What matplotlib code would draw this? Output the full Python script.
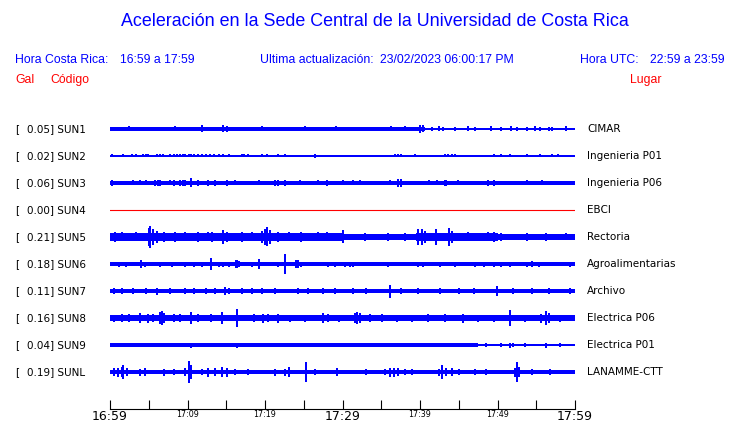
import matplotlib
matplotlib.use("Agg")
import matplotlib.pyplot as plt
from matplotlib.transforms import blended_transform_factory

# station codes, peak acceleration (Gal) and place names
codes = ["SUN1", "SUN2", "SUN3", "SUN4", "SUN5", "SUN6", "SUN7", "SUN8", "SUN9", "SUNL"]
gal = [0.05, 0.02, 0.06, 0.00, 0.21, 0.18, 0.11, 0.16, 0.04, 0.19]
places = ["CIMAR", "Ingenieria P01", "Ingenieria P06", "EBCI", "Rectoria",
          "Agroalimentarias", "Archivo", "Electrica P06", "Electrica P01", "LANAMME-CTT"]

# time axis: minutes after 16:59
tick_minutes = [0, 10, 20, 30, 40, 50, 60]
tick_labels = ["16:59", "17:09", "17:19", "17:29", "17:39", "17:49", "17:59"]

# trace envelopes: (start min, end min, half height px)
sun1_base = [(0, 40.6, 1.8), (40.6, 60, 0.8)]
sun2_base = [(0, 60, 0.6)]
sun3_base = [(0, 55.5, 2.0), (55.5, 60, 2.3)]
sun4_base = [(0, 60, 0.5)]
sun5_base = [(0, 30, 4.4), (30, 39.5, 3.0), (39.5, 50, 4.0), (50, 60, 3.2)]
sun6_base = [(0, 60, 2.0)]
sun7_base = [(0, 60, 2.3)]
sun8_base = [(0, 60, 2.8)]
sun9_base = [(0, 47.5, 1.8), (47.5, 60, 1.1)]
sunl_base = [(0, 60, 2.1)]

# bursts / spikes: (minute, half height px)
sun1_peaks = [(2.5, 2.5), (8.4, 2.5), (11.9, 3.5), (14.6, 3.5), (15.1, 3), (19.6, 2.5),
              (25.2, 2.5), (29.2, 2.5), (36.3, 2.5), (38.1, 2.5), (40.0, 4), (40.4, 3.5),
              (41.5, 1.6), (42.4, 2.5), (43.0, 1.6), (44.5, 2), (46.2, 2.5), (47.1, 1.6),
              (49.2, 2.5), (50.5, 1.6), (51.8, 2.5), (52.5, 1.6), (53.8, 2), (54.8, 2.5),
              (55.5, 1.6), (56.6, 1.6), (57.0, 2), (58.9, 2.5)]
sun2_peaks = [(0.2, 1.5), (1.7, 1.5), (2.8, 1.5), (3.4, 1.5), (4.3, 1.5), (4.6, 1.5),
              (4.9, 1.5), (6.0, 1.5), (6.4, 1.5), (6.9, 1.5), (7.7, 1.5), (8.2, 1.5),
              (8.6, 1.5), (9.0, 1.5), (9.4, 1.5), (9.7, 1.5), (10.2, 1.5), (10.5, 1.5),
              (10.8, 1.5), (11.4, 1.5), (11.9, 1.5), (12.4, 1.5), (12.9, 1.5), (13.4, 1.5),
              (14.0, 1.5), (14.6, 1.5), (15.3, 1.5), (17.0, 1.5), (17.3, 1.5), (17.8, 1.5),
              (19.6, 1.5), (20.2, 1.5), (21.7, 1.5), (22.6, 1.5), (26.5, 2), (36.8, 1.5),
              (37.2, 1.5), (37.6, 1.5), (39.4, 1.5), (43.2, 1.5), (43.6, 1.5), (44.1, 1.5),
              (44.5, 1.5), (49.5, 1.5), (50.5, 1.5), (51.6, 1.5), (53.8, 1.5), (55.5, 1.5),
              (57.0, 1.5), (57.8, 1.5)]
sun3_peaks = [(0.3, 3), (3.0, 2.5), (3.9, 2.5), (4.7, 2.5), (5.8, 3), (6.2, 3), (6.5, 3),
              (7.7, 2.5), (8.2, 3), (9.0, 3), (9.4, 3), (9.7, 3), (10.4, 4.5), (11.4, 3),
              (12.7, 3), (13.5, 3), (15.1, 3), (16.1, 2.5), (19.2, 2.5), (21.3, 3),
              (21.7, 3), (22.6, 3), (24.5, 2.5), (26.9, 2.5), (28.0, 3), (30.1, 2.5),
              (31.4, 2.5), (32.3, 2.5), (36.1, 2.5), (37.2, 4), (37.6, 4), (41.1, 2.5),
              (42.2, 2.5), (43.2, 3), (43.4, 3), (44.9, 2.5), (48.8, 3), (49.5, 3),
              (53.8, 2.5), (55.7, 2.5)]
sun4_peaks = []
sun5_peaks = [(0.7, 5), (1.5, 4.5), (3.4, 4.5), (5.0, 9), (5.2, 11), (5.5, 8), (6.0, 6),
              (7.0, 5), (8.4, 5), (9.7, 4.5), (11.4, 5), (12.7, 4.5), (13.1, 5), (14.6, 7),
              (15.1, 5), (17.0, 5), (18.3, 4.5), (19.6, 6), (20.0, 8), (20.2, 9.5),
              (20.6, 7), (21.7, 5), (23.1, 4.5), (24.7, 5), (26.9, 4.5), (28.0, 4.5),
              (30.1, 6.5), (32.9, 4), (35.9, 4), (38.1, 4), (39.8, 8), (40.2, 8), (40.6, 6),
              (42.0, 8), (43.7, 9), (44.1, 6), (46.2, 4.5), (48.8, 4.5), (49.5, 5),
              (50.5, 4), (53.8, 4), (56.3, 4), (58.9, 3.5)]
sun6_peaks = [(1.1, 2.5), (2.0, 2.5), (4.0, 3.5), (4.5, 2.5), (6.4, 2.5), (8.0, 2.5),
              (9.7, 2.5), (10.8, 2.5), (11.9, 2.5), (13.0, 6.5), (14.0, 2.5), (14.6, 2.5),
              (15.3, 2.5), (16.2, 3.5), (16.4, 3.5), (16.6, 3), (18.3, 2.5), (19.2, 5),
              (21.7, 2.5), (22.6, 10), (24.0, 3.5), (24.3, 3.5), (24.7, 2.5), (28.1, 2.5),
              (29.0, 2.5), (30.3, 2.5), (31.0, 2.5), (31.4, 2.5), (35.9, 2.5), (39.8, 2.5),
              (40.4, 2.5), (42.6, 2.5), (44.5, 2.5), (47.1, 2.5), (48.2, 2.5), (49.5, 2.5),
              (50.5, 2.5), (51.6, 2.5), (53.8, 2.5), (54.5, 3), (55.3, 2.5), (59.4, 2.5)]
sun7_peaks = [(0.5, 3), (1.5, 3), (3.0, 3), (4.7, 3), (6.0, 3.5), (7.7, 3), (9.7, 3),
              (10.8, 3), (12.4, 3), (13.5, 3), (14.8, 4), (15.3, 3), (17.0, 3), (18.3, 3),
              (19.6, 3), (21.3, 3), (24.3, 3), (25.6, 3), (27.5, 3), (29.0, 3), (31.4, 3),
              (33.0, 3), (36.1, 6.5), (37.6, 3), (39.8, 3), (42.6, 3), (45.0, 3), (47.0, 3),
              (49.9, 4.5), (52.0, 3), (54.5, 3), (56.6, 3), (59.4, 3)]
sun8_peaks = [(0.5, 3.5), (1.5, 4), (2.5, 4), (3.9, 5), (4.9, 4.5), (5.5, 4), (6.5, 6),
              (6.7, 7), (7.0, 5.5), (8.2, 4), (9.0, 4), (10.5, 6), (11.4, 4), (13.0, 4),
              (14.4, 6), (16.4, 9), (18.6, 4), (19.8, 4.5), (20.4, 4), (21.7, 4.5),
              (23.2, 3.5), (25.2, 3.5), (27.5, 5), (28.1, 4), (29.5, 3.5), (31.6, 5),
              (31.9, 6), (32.2, 5), (33.5, 4), (35.1, 4), (37.0, 3.5), (39.0, 3.5), (41.0, 4),
              (43.2, 4), (45.6, 4.5), (47.5, 3.5), (49.5, 3.5), (51.6, 8), (53.5, 3.5),
              (55.6, 4.5), (56.2, 7), (56.6, 5), (58.0, 3.5)]
sun9_peaks = [(10.5, 2.5), (16.4, 2.5), (17.3, 2), (22.6, 1.8), (25.5, 1.8), (29.0, 1.8),
              (31.5, 1.8), (34.0, 2), (36.8, 2.3), (38.5, 1.8), (40.5, 1.8), (43.0, 1.8),
              (46.0, 1.8), (48.5, 1.8), (50.5, 1.8), (51.6, 2.5), (52.0, 2), (53.5, 1.8),
              (56.3, 2.5), (58.0, 1.8)]
sunl_peaks = [(0.5, 4), (1.0, 4.5), (1.5, 5), (1.7, 7), (2.2, 4), (3.9, 3.5), (4.5, 4),
              (7.0, 3.5), (8.2, 3), (9.7, 4), (10.2, 11), (10.5, 7), (11.9, 3), (12.7, 4.5),
              (13.5, 4), (14.4, 5), (15.1, 4.5), (16.1, 3), (17.8, 3), (21.3, 3.5),
              (22.6, 3.5), (23.1, 5), (25.3, 10), (26.5, 3), (29.3, 4), (33.0, 3), (35.5, 3),
              (36.1, 4.5), (36.6, 4.5), (37.2, 4), (38.1, 3), (39.0, 3), (42.4, 3.5),
              (42.9, 7), (43.4, 4), (44.1, 4), (45.0, 3), (47.1, 3), (48.5, 3), (52.3, 4.5),
              (52.5, 10), (52.8, 5), (54.5, 3), (56.8, 3)]

bases = [sun1_base, sun2_base, sun3_base, sun4_base, sun5_base,
         sun6_base, sun7_base, sun8_base, sun9_base, sunl_base]
peaks = [sun1_peaks, sun2_peaks, sun3_peaks, sun4_peaks, sun5_peaks,
         sun6_peaks, sun7_peaks, sun8_peaks, sun9_peaks, sunl_peaks]

W, H = 740, 423
ROW_PX = 27.0
BLUE = "#0000ff"
RED = "#ff0000"

fig = plt.figure(figsize=(W / 100, H / 100), dpi=100)
ax = fig.add_axes([110 / W, 1 - 409 / H, 465 / W, (409 - 115) / H])

for i, code in enumerate(codes):
    if gal[i] == 0:
        ax.plot([0, 60], [i, i], color=RED, lw=0.8)
        continue
    for t0, t1, h in bases[i]:
        ax.fill_between([t0, t1], i - h / ROW_PX, i + h / ROW_PX, color=BLUE, lw=0,
                        antialiased=False)
    for t, h in peaks[i]:
        ax.vlines(t, i - h / ROW_PX, i + h / ROW_PX, color=BLUE, lw=1.3,
                  antialiased=False)

ax.set_xlim(0, 60)
ax.set_ylim((409 - 129) / ROW_PX, (115 - 129) / ROW_PX)
ax.set_yticks([])
for side in ["top", "left", "right"]:
    ax.spines[side].set_visible(False)
ax.spines["bottom"].set_linewidth(0.8)

ax.set_xticks(range(0, 61, 5))
labels = []
for m in range(0, 61, 5):
    labels.append(tick_labels[tick_minutes.index(m)] if m in tick_minutes else "")
ax.set_xticklabels(labels)
ax.tick_params(axis="x", direction="in", length=6.5, width=0.8, pad=1)
for lab in ax.get_xticklabels():
    if lab.get_text() in ("16:59", "17:29", "17:59"):
        lab.set_fontsize(9)
    else:
        lab.set_fontsize(5.8)

# row labels
tr = blended_transform_factory(fig.transFigure, ax.transData)
for i, code in enumerate(codes):
    ax.text(15 / W, i, "[", transform=tr, fontsize=7.5, va="center", ha="left")
    ax.text(27 / W, i, f"{gal[i]:.2f}] {code}", transform=tr, fontsize=7.5,
            va="center", ha="left")
    ax.text(587 / W, i, places[i], transform=tr, fontsize=7.5, va="center", ha="left")

# header
hf = "Liberation Sans"
fig.text(375 / W, 1 - 22 / H, "Aceleración en la Sede Central de la Universidad de Costa Rica",
         color=BLUE, fontsize=12.9, family=hf, ha="center", va="center")
y2 = 1 - 60 / H
fig.text(15 / W, y2, "Hora Costa Rica:", color=BLUE, fontsize=8.8, family=hf, va="center")
fig.text(120 / W, y2, "16:59 a 17:59", color=BLUE, fontsize=8.8, family=hf, va="center")
fig.text(260 / W, y2, "Ultima actualización:", color=BLUE, fontsize=8.8, family=hf, va="center")
fig.text(380 / W, y2, "23/02/2023 06:00:17 PM", color=BLUE, fontsize=8.8, family=hf, va="center")
fig.text(580 / W, y2, "Hora UTC:", color=BLUE, fontsize=8.8, family=hf, va="center")
fig.text(650 / W, y2, "22:59 a 23:59", color=BLUE, fontsize=8.8, family=hf, va="center")
y3 = 1 - 80 / H
fig.text(15 / W, y3, "Gal", color=RED, fontsize=8.8, family=hf, va="center")
fig.text(50 / W, y3, "Código", color=RED, fontsize=8.8, family=hf, va="center")
fig.text(630 / W, y3, "Lugar", color=RED, fontsize=8.8, family=hf, va="center")

fig.savefig("out.png", dpi=100)
